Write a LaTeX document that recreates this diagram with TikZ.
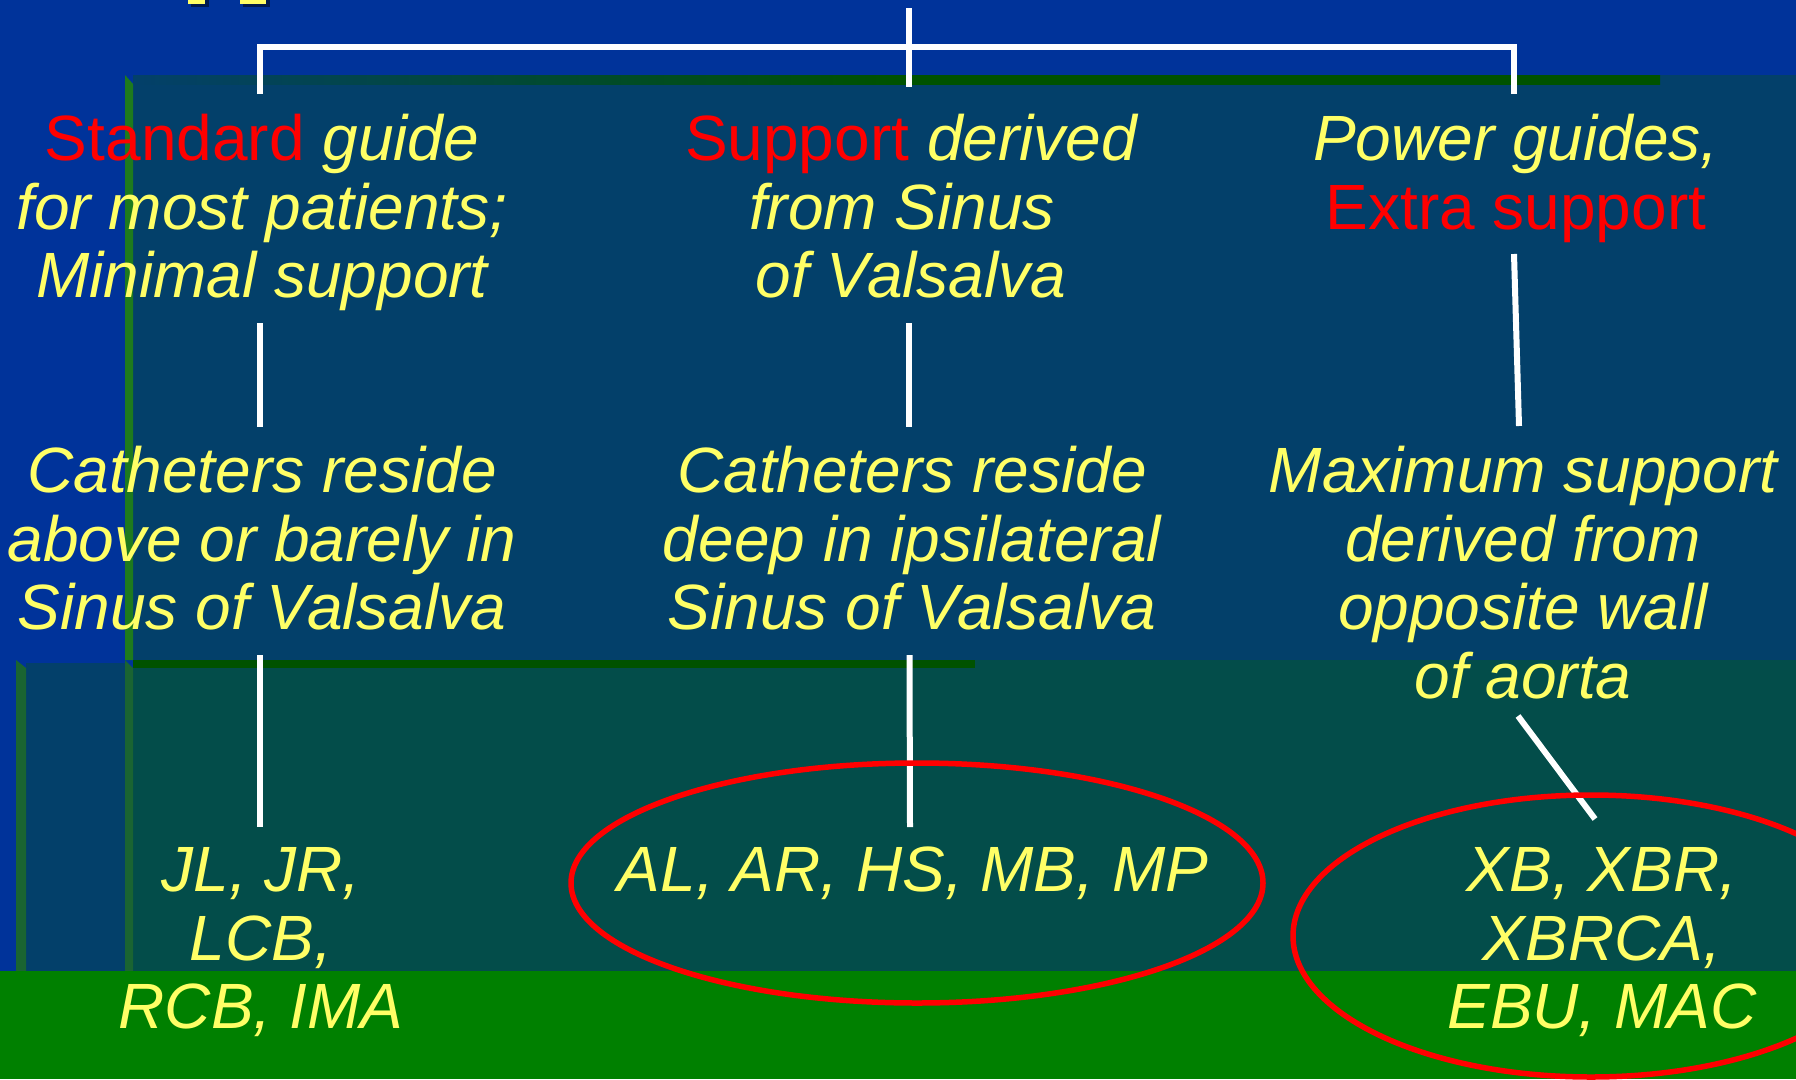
\documentclass[tikz,border=0pt]{standalone}
\usepackage{fontspec}
\setmainfont{Liberation Sans}
\definecolor{bgblue}{HTML}{00339A}
\definecolor{panelteal}{HTML}{03406A}
\definecolor{panelgreen}{HTML}{034D4A}
\definecolor{bargreen}{HTML}{008000}
\definecolor{stripgreen}{HTML}{1E7A1E}
\definecolor{stripgreenB}{HTML}{1A6432}
\definecolor{linegreen}{HTML}{005200}
\definecolor{txtyellow}{HTML}{FFFF66}
\definecolor{txtred}{HTML}{FF0000}
\definecolor{shadowblue}{HTML}{001A4D}
\newcommand{\hlred}[1]{\textup{\color{txtred}#1}}
\newcommand{\blk}[1]{\begin{tabular}[t]{@{}c@{}}#1\end{tabular}}
\tikzset{
  lbl/.style={anchor=base, inner sep=0pt, text=txtyellow,
    font=\fontsize{64}{68.5}\selectfont\itshape},
  conn/.style={draw=white, line width=6pt},
  ring/.style={draw=txtred, line width=5.5pt},
}
\begin{document}
\begin{tikzpicture}[x=1pt,y=-1pt]
\useasboundingbox (0,0) rectangle (1796,1079);
\clip (0,0) rectangle (1796,1079);
% background
\fill[bgblue] (0,0) rectangle (1796,1079);
\fill[panelteal] (133,75) rectangle (1796,660);
\fill[panelgreen] (133,660) rectangle (1796,971);
\fill[panelteal] (26,663) rectangle (125,971);
\fill[stripgreen] (125,75) -- (133,84) -- (133,660) -- (125,660) -- cycle;
\fill[stripgreenB] (125,660) -- (133,668) -- (133,971) -- (125,971) -- cycle;
\fill[stripgreenB] (16,660) -- (26,668) -- (26,971) -- (16,971) -- cycle;
\shade[left color=panelteal, right color=linegreen, middle color=linegreen] (133,75) rectangle (1660,84);
\fill[linegreen] (896,75) rectangle (1660,84);
\fill[linegreen] (133,660) rectangle (975,668);
\fill[bargreen] (0,971) rectangle (1796,1079);
% title fragments
\fill[shadowblue] (191,0) rectangle (209,7);
\fill[shadowblue] (243,0) rectangle (270,7);
\fill[txtyellow] (188,0) rectangle (205,4);
\fill[txtyellow] (240,0) rectangle (266,4);
% texts
\node[lbl] (s1) at (262,160.5) {\blk{\hlred{Standard} guide\\for most patients;\\Minimal support}};
\node[lbl] (s2) at (911,160.5) {\blk{\hlred{Support} derived\\from Sinus\hspace*{18pt}\\of Valsalva}};
\node[lbl] (s3) at (1516,160.5) {\blk{Power guides,\\\hlred{Extra support}}};
\node[lbl] (r1) at (262,492.5) {\blk{Catheters reside\\above or barely in\\Sinus of Valsalva}};
\node[lbl] (r2) at (912,492.5) {\blk{Catheters reside\\deep in ipsilateral\\Sinus of Valsalva}};
\node[lbl] (r3) at (1523,492.5) {\blk{Maximum support\\derived from\\opposite wall\\of aorta}};
\node[lbl] (g1) at (261,891.5) {\blk{JL, JR,\\LCB,\\RCB, IMA}};
\node[lbl] (g2) at (913,891.5) {\blk{AL, AR, HS, MB, MP}};
\node[lbl] (g3) at (1602,891.5) {\blk{XB, XBR,\\XBRCA,\\EBU, MAC}};
% connector end points
\coordinate (top) at (909,8);
\coordinate (topj) at (909,46.5);
\coordinate (b1) at (260,94);
\coordinate (b3) at (1514,94);
\coordinate (s1b) at (260,323); \coordinate (r1t) at (260,427);
\coordinate (r1b) at (260,655); \coordinate (g1t) at (260,827);
\coordinate (s2b) at (909,323); \coordinate (r2t) at (909,427);
\coordinate (r2b) at (909.5,655); \coordinate (g2t) at (910,827);
\coordinate (s3b) at (1514,254); \coordinate (r3t) at (1519,426);
\coordinate (r3b) at (1518,716); \coordinate (g3t) at (1595,819);
% connectors
\draw[conn] (b1) -- (b1 |- topj) -- (b3 |- topj) -- (b3);
\draw[conn] (top) -- (909,87);
\draw[conn] (s1b) -- (r1t);
\draw[conn] (r1b) -- (g1t);
\draw[conn] (s2b) -- (r2t);
\draw[conn] (r2b) -- (g2t);
\draw[conn] (s3b) -- (r3t);
\draw[conn] (r3b) -- (g3t);
% red ellipses
\draw[ring] (917,883) ellipse [x radius=346pt, y radius=120pt];
\draw[ring] (1591,936) ellipse [x radius=298pt, y radius=141pt];
\end{tikzpicture}
\end{document}
